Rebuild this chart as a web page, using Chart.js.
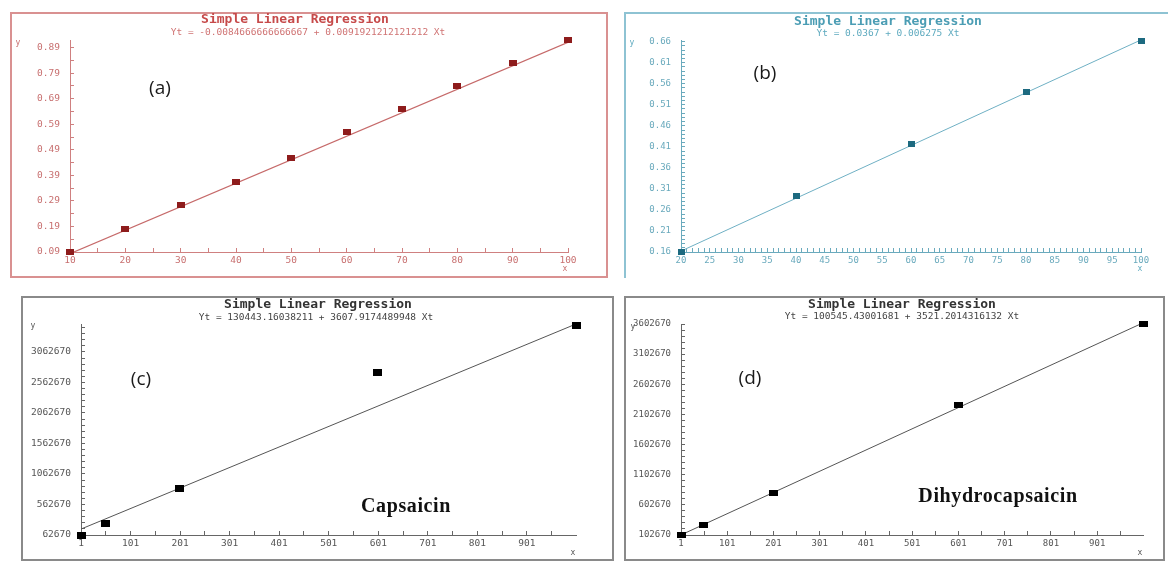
<!DOCTYPE html>
<html>
<head>
<meta charset="utf-8">
<script src="https://cdn.jsdelivr.net/npm/chart.js@4/dist/chart.umd.min.js"></script>
<style>
body { margin: 0; width: 1168px; height: 563px; background: #fff; position: relative; overflow: hidden; }
.panel { position: absolute; box-sizing: border-box; border: 2px solid #888; }
.panel canvas { position: absolute; left: 0; top: 0; }
.t { position: absolute; white-space: nowrap; line-height: 1; transform: translate(-50%, -50%); }
.ttl { font: bold 13px "DejaVu Sans Mono", monospace; }
.eq { font: 9.5px "DejaVu Sans Mono", monospace; }
.tag { font: 19px "Open Sans", sans-serif; color: #1a1a1a; }
.cmp { font: bold 20px "Liberation Serif", serif; color: #111; letter-spacing: 0.6px; }
.ax { font: 8px "DejaVu Sans Mono", monospace; }
</style>
</head>
<body>

<div class="panel" style="left:10px;top:12px;width:598px;height:266px;border-color:#d99191;">
  <canvas id="chartA" width="594" height="262"></canvas>
</div>
<div class="panel" style="left:624px;top:12px;width:560px;height:266px;border-color:#8ec3d3;border-bottom:none;">
  <canvas id="chartB" width="556" height="262"></canvas>
</div>
<div class="panel" style="left:21px;top:296px;width:593px;height:265px;border-color:#8a8a8a;">
  <canvas id="chartC" width="589" height="261"></canvas>
</div>
<div class="panel" style="left:624px;top:296px;width:541px;height:265px;border-color:#8a8a8a;">
  <canvas id="chartD" width="537" height="261"></canvas>
</div>

<div class="t ttl" style="left:295px;top:18px;color:#c64a4a;">Simple Linear Regression</div>
<div class="t eq" style="left:308px;top:31px;color:#d07474;">Yt = -0.0084666666666667 + 0.0091921212121212 Xt</div>
<div class="t tag" style="left:160px;top:87px;">(a)</div>
<div class="t ax" style="left:18px;top:42px;color:#c87070;">y</div>
<div class="t ax" style="left:565px;top:268px;color:#c87070;">x</div>

<div class="t ttl" style="left:888px;top:20px;color:#4b9db4;">Simple Linear Regression</div>
<div class="t eq" style="left:888px;top:32px;color:#5eaabf;">Yt = 0.0367 + 0.006275 Xt</div>
<div class="t tag" style="left:765px;top:72px;">(b)</div>
<div class="t ax" style="left:632px;top:42px;color:#5eaabf;">y</div>
<div class="t ax" style="left:1140px;top:268px;color:#5eaabf;">x</div>

<div class="t ttl" style="left:318px;top:303px;color:#333;">Simple Linear Regression</div>
<div class="t eq" style="left:316px;top:316px;color:#444;">Yt = 130443.16038211 + 3607.9174489948 Xt</div>
<div class="t tag" style="left:141px;top:378px;">(c)</div>
<div class="t ax" style="left:33px;top:325px;color:#555;">y</div>
<div class="t ax" style="left:573px;top:552px;color:#555;">x</div>
<div class="t cmp" style="left:406px;top:505px;">Capsaicin</div>

<div class="t ttl" style="left:902px;top:303px;color:#333;">Simple Linear Regression</div>
<div class="t eq" style="left:902px;top:315px;color:#444;">Yt = 100545.43001681 + 3521.2014316132 Xt</div>
<div class="t tag" style="left:750px;top:377px;">(d)</div>
<div class="t ax" style="left:633px;top:326px;color:#555;">y</div>
<div class="t ax" style="left:1140px;top:552px;color:#555;">x</div>
<div class="t cmp" style="left:998px;top:495px;">Dihydrocapsaicin</div>

<script>
// (a) standard points and fitted line
var xA = [10, 20, 30, 40, 50, 60, 70, 80, 90, 100];
var yA = [0.09, 0.18, 0.274, 0.363, 0.457, 0.559, 0.649, 0.738, 0.828, 0.92];
var fitXA = [10, 100];
var fitYA = [0.0835, 0.9107];
var xMajorA = [10, 20, 30, 40, 50, 60, 70, 80, 90, 100];
var yMajorA = [0.09, 0.19, 0.29, 0.39, 0.49, 0.59, 0.69, 0.79, 0.89];

// (b)
var xB = [20, 40, 60, 80, 100];
var yB = [0.16, 0.292, 0.417, 0.541, 0.662];
var fitXB = [20, 100];
var fitYB = [0.1622, 0.6642];
var xMajorB = [20, 25, 30, 35, 40, 45, 50, 55, 60, 65, 70, 75, 80, 85, 90, 95, 100];
var yMajorB = [0.16, 0.21, 0.26, 0.31, 0.36, 0.41, 0.46, 0.51, 0.56, 0.61, 0.66];

// (c) capsaicin - line ends
var xC = [1, 50, 200, 600, 1000];
var yC = [62670, 259000, 817000, 2718000, 3490000];
var fitXC = [1, 1000];
var fitYC = [160000, 3520000];
var xMajorC = [1, 101, 201, 301, 401, 501, 601, 701, 801, 901];
var yMajorC = [62670, 562670, 1062670, 1562670, 2062670, 2562670, 3062670];

// (d) dihydrocapsaicin
var xD = [1, 50, 200, 600, 1000];
var yD = [102670, 268000, 795000, 2259000, 3602670];
var fitXD = [1, 1000];
var fitYD = [104067, 3621747];
var xMajorD = [1, 101, 201, 301, 401, 501, 601, 701, 801, 901];
var yMajorD = [102670, 602670, 1102670, 1602670, 2102670, 2602670, 3102670, 3602670];

function pairs(xs, ys) {
    return xs.map(function (x, i) { return {x: x, y: ys[i]}; });
}

function marker(color, w, h) {
    var c = document.createElement('canvas');
    c.width = w; c.height = h;
    var g = c.getContext('2d');
    g.fillStyle = color;
    g.fillRect(0, 0, w, h);
    return c;
}

// majors plus evenly spaced minor ticks between them
function tickList(majors, parts, extraEnd) {
    var out = [];
    for (var i = 0; i < majors.length; i++) {
        out.push(majors[i]);
        var next = i < majors.length - 1 ? majors[i + 1] : (extraEnd ? majors[i] + (majors[i] - majors[i - 1]) : null);
        if (next === null) continue;
        var step = (next - majors[i]) / parts;
        for (var k = 1; k < parts; k++) {
            var v = majors[i] + k * step;
            if (extraEnd && v > extraEnd) break;
            out.push(v);
        }
    }
    return out;
}

function drawPanel(id, o) {
    var cv = document.getElementById(id);
    var axisFont = {family: 'DejaVu Sans Mono', size: o.fontSize};
    new Chart(cv.getContext('2d'), {
        type: 'scatter',
        data: {
            datasets: [{
                type: 'line',
                data: pairs(o.fitX, o.fitY),
                borderColor: o.lineColor,
                borderWidth: o.lineWidth,
                pointRadius: 0,
                fill: false,
                order: 2
            }, {
                data: pairs(o.x, o.y),
                pointStyle: marker(o.markColor, o.markW, o.markH),
                pointRadius: 4,
                borderWidth: 0,
                clip: false,
                order: 1
            }]
        },
        options: {
            responsive: false,
            animation: false,
            events: [],
            layout: {padding: o.pad},
            plugins: {legend: {display: false}, tooltip: {enabled: false}},
            scales: {
                x: {
                    type: 'linear',
                    min: o.xMin, max: o.xMax,
                    afterBuildTicks: function (s) { s.ticks = o.xTicks.map(function (v) { return {value: v}; }); },
                    afterFit: function (s) { s.height = 20; },
                    grid: {drawOnChartArea: false, tickLength: -4, color: o.axisColor},
                    border: {color: o.axisColor, width: 1},
                    ticks: {
                        autoSkip: false, maxRotation: 0, padding: 7,
                        color: o.textColor, font: axisFont,
                        callback: function (v) { return o.xMajor.indexOf(v) >= 0 ? String(v) : ''; }
                    }
                },
                y: {
                    type: 'linear',
                    min: o.yMin, max: o.yMax,
                    afterBuildTicks: function (s) { s.ticks = o.yTicks.map(function (v) { return {value: v}; }); },
                    afterFit: function (s) { s.width = o.pad.left0; },
                    grid: {drawOnChartArea: false, tickLength: -4, color: o.axisColor},
                    border: {color: o.axisColor, width: 1},
                    ticks: {
                        autoSkip: false, padding: 14,
                        color: o.textColor, font: axisFont,
                        callback: function (v) { return o.yMajor.indexOf(v) >= 0 ? o.fmt(v) : ''; }
                    }
                }
            }
        }
    });
}

var two = function (v) { return v.toFixed(2); };
var whole = function (v) { return String(v); };

drawPanel('chartA', {
    x: xA, y: yA, fitX: fitXA, fitY: fitYA,
    xMin: 10, xMax: 100, yMin: 0.09, yMax: 0.92,
    xMajor: xMajorA, yMajor: yMajorA,
    xTicks: tickList(xMajorA, 2), yTicks: tickList(yMajorA, 2),
    fmt: two, fontSize: 9.5,
    pad: {top: 26, right: 38, bottom: 4, left: 0, left0: 58},
    lineColor: '#c66a6a', lineWidth: 1.2, markColor: '#8e1c1c', markW: 8, markH: 6,
    axisColor: '#cf8080', textColor: '#c87070'
});

drawPanel('chartB', {
    x: xB, y: yB, fitX: fitXB, fitY: fitYB,
    xMin: 20, xMax: 100, yMin: 0.16, yMax: 0.664,
    xMajor: xMajorB, yMajor: yMajorB,
    xTicks: tickList(xMajorB, 5), yTicks: tickList(yMajorB, 5),
    fmt: two, fontSize: 9,
    pad: {top: 26, right: 41, bottom: 4, left: 0, left0: 55},
    lineColor: '#6fb0c4', lineWidth: 1, markColor: '#1d6a80', markW: 7, markH: 6,
    axisColor: '#6aaabd', textColor: '#6aaabd'
});

drawPanel('chartC', {
    x: xC, y: yC, fitX: fitXC, fitY: fitYC,
    xMin: 1, xMax: 1000, yMin: 62670, yMax: 3520000,
    xMajor: xMajorC, yMajor: yMajorC,
    xTicks: tickList(xMajorC, 2, 1000), yTicks: tickList(yMajorC, 5, 3520000),
    fmt: whole, fontSize: 9.5,
    pad: {top: 26, right: 36, bottom: 4, left: 0, left0: 58},
    lineColor: '#555', lineWidth: 1, markColor: '#000', markW: 9, markH: 7,
    axisColor: '#666', textColor: '#555'
});

drawPanel('chartD', {
    x: xD, y: yD, fitX: fitXD, fitY: fitYD,
    xMin: 1, xMax: 1000, yMin: 102670, yMax: 3602670,
    xMajor: xMajorD, yMajor: yMajorD,
    xTicks: tickList(xMajorD, 2, 1000), yTicks: tickList(yMajorD, 5),
    fmt: whole, fontSize: 9,
    pad: {top: 26, right: 20, bottom: 4, left: 0, left0: 55},
    lineColor: '#555', lineWidth: 1, markColor: '#000', markW: 9, markH: 6,
    axisColor: '#666', textColor: '#555'
});
</script>
</body>
</html>
